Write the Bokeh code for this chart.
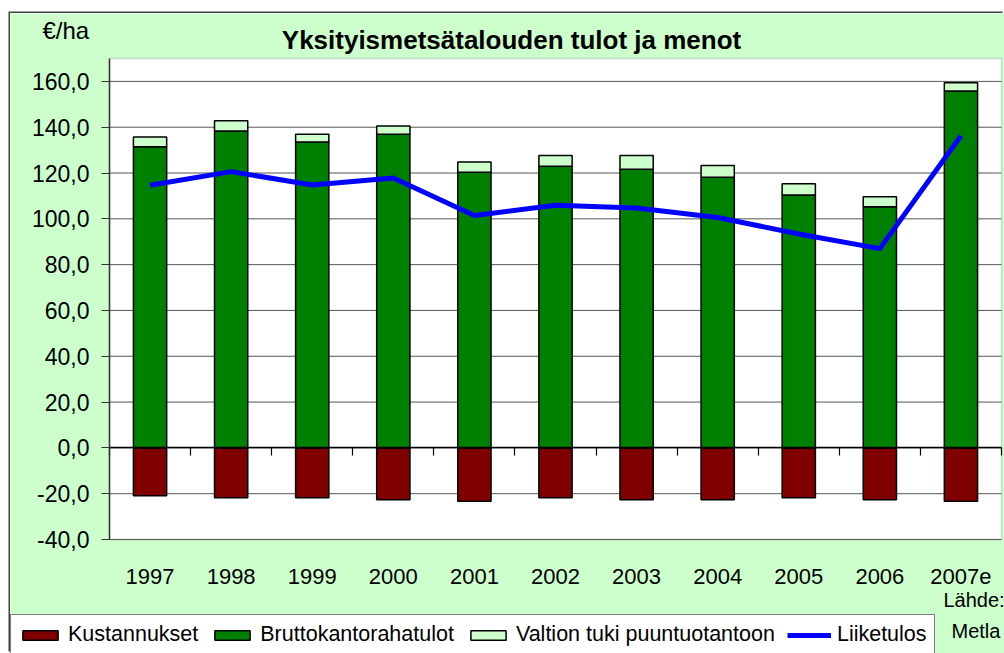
from bokeh.plotting import figure
from bokeh.models import (Range1d, FixedTicker, Label, Legend, LegendItem, LinearAxis,
                          BoxAnnotation, ColumnDataSource, CustomJSTickFormatter)
from bokeh.embed import file_html
from bokeh.resources import INLINE

# ---- data ----
years = ["1997", "1998", "1999", "2000", "2001", "2002", "2003", "2004", "2005", "2006", "2007e"]
kustannukset = [-20.9, -21.8, -21.8, -22.7, -23.3, -21.8, -22.7, -22.7, -21.8, -22.7, -23.3]
bruttokantorahatulot = [131.5, 138.4, 133.5, 136.9, 120.3, 123.0, 121.7, 118.2, 110.4, 105.3, 155.8]
valtion_tuki = [4.2, 4.4, 3.4, 3.6, 4.5, 4.7, 6.0, 5.1, 4.9, 4.3, 3.6]
liiketulos = [114.7, 120.6, 114.8, 117.8, 101.5, 105.9, 104.7, 100.6, 93.4, 87.0, 136.3]
y_ticks = [-40, -20, 0, 20, 40, 60, 80, 100, 120, 140, 160]
y_min, y_max = -40, 170

title_text = "Yksityismetsätalouden tulot ja menot"
unit_text = "€/ha"
source_lines = ["Lähde:", "Metla"]

# ---- layout (pixels) ----
FONT = "Liberation Sans"
LIME = "#CCFFCC"
CANVAS_X, CANVAS_Y, W, H = 10, 13, 994, 640          # chart area on the page
PLOT_L, PLOT_R, PLOT_T, PLOT_B = 109, 1001, 58, 539  # plot area on the page

n = len(years)
sx = (PLOT_R - PLOT_L) / n
sy = (PLOT_B - PLOT_T) / (y_max - y_min)
x_range = Range1d((CANVAS_X - PLOT_L) / sx, (CANVAS_X + W - PLOT_L) / sx)
y_range = Range1d(y_min - (CANVAS_Y + H - PLOT_B) / sy, y_max + (PLOT_T - CANVAS_Y) / sy)

xs = [i + 0.5 for i in range(n)]
src = ColumnDataSource(dict(x=xs, kust=kustannukset, brutto=bruttokantorahatulot,
                            tuki=valtion_tuki, liike=liiketulos))

p = figure(width=W, height=H, x_range=x_range, y_range=y_range,
           output_backend="svg", toolbar_location=None, x_axis_type=None, y_axis_type=None,
           min_border=0, border_fill_color=LIME, background_fill_color=LIME)
p.margin = (CANVAS_Y, 0, 0, CANVAS_X)
p.styles = {"box-shadow": "-1.5px -1.5px 0 0 #404040"}
p.outline_line_color = None
p.grid.visible = False

# white plot area
p.add_layout(BoxAnnotation(left=0, right=n, top=y_max, bottom=y_min,
                           fill_color="white", fill_alpha=1.0, line_color="#808080",
                           line_width=1.5, level="image"))

# horizontal gridlines across the plot area
p.segment(x0=[0] * len(y_ticks), x1=[n] * len(y_ticks), y0=y_ticks, y1=y_ticks,
          line_color="#555555", line_width=1, level="underlay")

# bars
r_k = p.vbar(x="x", top="kust", bottom=0, width=0.41, fill_color="#800000",
             line_color="black", line_width=1.5, source=src)
r_stack = p.vbar_stack(["brutto", "tuki"], x="x", width=0.41,
                       fill_color=["#008000", LIME], line_color="black",
                       line_width=1.5, source=src)
r_l = p.line("x", "liike", line_color="#0000FF", line_width=5, line_join="round", source=src)

# y axis at the plot area's left edge
yaxis = LinearAxis(fixed_location=0, bounds=(y_min, y_max), ticker=FixedTicker(ticks=y_ticks),
                   formatter=CustomJSTickFormatter(code="return tick.toFixed(1).replace('.', ',');"))
yaxis.axis_line_color = "#333333"
yaxis.axis_line_width = 1.5
yaxis.major_tick_out = 8
yaxis.major_tick_in = 0
yaxis.major_tick_line_color = "#333333"
yaxis.minor_tick_line_color = None
yaxis.major_label_standoff = 12
yaxis.major_label_text_font = FONT
yaxis.major_label_text_font_size = "23px"
yaxis.major_label_text_color = "black"
p.add_layout(yaxis, "left")

# category axis line at zero, with tick marks between categories
bounds = list(range(n + 1))
zaxis = LinearAxis(fixed_location=0, bounds=(0, n), ticker=FixedTicker(ticks=bounds),
                   formatter=CustomJSTickFormatter(code="return '';"))
zaxis.axis_line_color = "black"
zaxis.axis_line_width = 1.5
zaxis.major_tick_out = 8
zaxis.major_tick_in = 0
zaxis.major_tick_line_color = "black"
zaxis.major_tick_line_width = 1.2
zaxis.minor_tick_line_color = None
p.add_layout(zaxis, "below")

# category labels below the plot area
xaxis = LinearAxis(fixed_location=y_min, bounds=(0, n), ticker=FixedTicker(ticks=xs),
                   formatter=CustomJSTickFormatter(args=dict(labels=years),
                                                   code="return labels[Math.floor(tick)];"))
xaxis.axis_line_color = None
xaxis.major_tick_line_color = None
xaxis.minor_tick_line_color = None
xaxis.major_tick_out = 0
xaxis.major_label_standoff = 29
xaxis.major_label_text_font = FONT
xaxis.major_label_text_font_size = "22px"
xaxis.major_label_text_color = "black"
p.add_layout(xaxis, "below")

# texts (screen px measured from the chart area's bottom-left corner)
def lab(text, page_x, page_y, size, align="left", bold=False):
    p.add_layout(Label(x=page_x - CANVAS_X, y=CANVAS_Y + H - page_y,
                       x_units="screen", y_units="screen", text=text,
                       text_font=FONT, text_font_size=size,
                       text_font_style="bold" if bold else "normal",
                       text_align=align, text_baseline="alphabetic", text_color="black"))

lab(title_text, 511, 39, "26px", align="center", bold=True)
lab(unit_text, 42, 30, "24px")
lab(source_lines[0], 943, 599, "20px")
lab(source_lines[1], 951, 630, "20px")

# legend
legend = Legend(items=[
    LegendItem(label="Kustannukset", renderers=[r_k]),
    LegendItem(label="Bruttokantorahatulot", renderers=[r_stack[0]]),
    LegendItem(label="Valtion tuki puuntuotantoon", renderers=[r_stack[1]]),
    LegendItem(label="Liiketulos", renderers=[r_l]),
], location=(0, -2), orientation="horizontal")
legend.border_line_color = "black"
legend.border_line_width = 1
legend.background_fill_color = "white"
legend.background_fill_alpha = 1.0
legend.label_text_font = FONT
legend.label_text_font_size = "21.5px"
legend.label_text_color = "black"
legend.glyph_width = 44
legend.glyph_height = 12
legend.label_standoff = 6
legend.spacing = 12
legend.padding = 7
legend.margin = 0
p.add_layout(legend)

open("out.html", "w").write(file_html(p, INLINE))
